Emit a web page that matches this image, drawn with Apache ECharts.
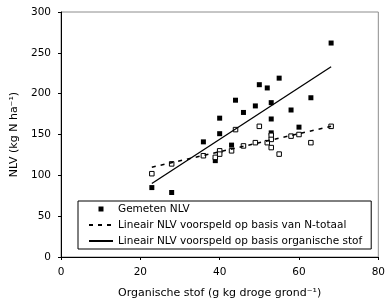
<!DOCTYPE html>
<html>
<head>
<meta charset="utf-8">
<script src="https://cdn.jsdelivr.net/npm/echarts@6/dist/echarts.min.js"></script>
<style>
html,body{margin:0;padding:0;background:#fff}
#chart{width:388px;height:306px}
</style>
</head>
<body>
<div id="chart"></div>
<script>
// organische stof (g/kg) per perceel
var orgStof = [22.9, 27.9, 35.9, 38.9, 40, 40, 43, 44, 46, 49, 50, 52, 53, 53, 53, 55, 58, 60, 63, 68.1];
// gemeten NLV (kg N/ha)
var gemetenNLV = [85, 79, 141, 118, 151, 170, 137, 192, 177, 185, 211, 207, 189, 169, 152, 219, 180, 159, 195, 262];
// voorspeld op basis van N-totaal (open vierkantjes)
var voorspeldNtot = [102, 114, 124, 122, 130, 126, 130, 156, 136, 140, 160, 140, 149, 144, 134, 126, 148, 150, 140, 160];
// regressielijnen (begin- en eindpunt)
var lijnNtotX = [22.9, 68.1];
var lijnNtotY = [110, 160];
var lijnOrgX = [22.9, 68.1];
var lijnOrgY = [90, 233];

var xTicks = [0, 20, 40, 60, 80];
var yTicks = [0, 50, 100, 150, 200, 250, 300];

var font = 'DejaVu Sans';
var noFill = 'rgba(0,0,0,0)';
function pairs(xs, ys) {
    return xs.map(function (x, i) { return [x, ys[i]]; });
}

var myChart = echarts.init(document.getElementById('chart'));
myChart.setOption({
    animation: false,
    grid: {
        left: 61, right: 6, top: 12, bottom: 49,
        show: true,
        borderColor: '#8c8c8c',
        borderWidth: 1
    },
    legend: {
        data: [
            { name: 'Gemeten NLV', icon: 'path://M0,0H1V1H0Z' },
            'Lineair NLV voorspeld op basis van N-totaal',
            'Lineair NLV voorspeld op basis organische stof'
        ],
        orient: 'vertical',
        left: 78, top: 201,
        itemWidth: 24, itemHeight: 5, itemGap: 4,
        padding: [2, 9, 2, 10],
        backgroundColor: '#fff',
        borderColor: '#000',
        borderWidth: 1,
        borderRadius: 0,
        selectedMode: false,
        textStyle: { fontFamily: font, fontSize: 10.5, color: '#000', lineHeight: 12 }
    },
    xAxis: {
        type: 'value',
        min: xTicks[0], max: xTicks[xTicks.length - 1], interval: 20,
        name: 'Organische stof (g kg droge grond⁻¹)',
        nameLocation: 'middle',
        nameGap: 31,
        nameTextStyle: { fontFamily: font, fontSize: 11, color: '#000' },
        axisLine: { lineStyle: { color: '#000', width: 1 } },
        axisTick: { inside: false, length: 3, lineStyle: { color: '#000' } },
        axisLabel: { margin: 10, fontFamily: font, fontSize: 10.5, color: '#000' },
        splitLine: { show: false }
    },
    yAxis: {
        type: 'value',
        min: yTicks[0], max: yTicks[yTicks.length - 1], interval: 50,
        name: 'NLV (kg N ha⁻¹)',
        nameLocation: 'middle',
        nameGap: 40,
        nameTextStyle: { fontFamily: font, fontSize: 11, color: '#000' },
        axisLine: { show: true, lineStyle: { color: '#000', width: 1 } },
        axisTick: { show: true, inside: false, length: 3, lineStyle: { color: '#000' } },
        axisLabel: { margin: 10, fontFamily: font, fontSize: 10.5, color: '#000' },
        splitLine: { show: false }
    },
    series: [
        {
            name: 'Lineair NLV voorspeld op basis organische stof',
            type: 'line',
            symbol: 'none',
            data: pairs(lijnOrgX, lijnOrgY),
            lineStyle: { color: '#000', width: 1.3, type: 'solid' },
            itemStyle: { color: noFill, borderColor: noFill, borderWidth: 0 }
        },
        {
            name: 'Lineair NLV voorspeld op basis van N-totaal',
            type: 'line',
            symbol: 'none',
            data: pairs(lijnNtotX, lijnNtotY),
            lineStyle: { color: '#000', width: 1.6, type: [4, 5] },
            itemStyle: { color: noFill, borderColor: noFill, borderWidth: 0 }
        },
        {
            name: 'Gemeten NLV',
            type: 'scatter',
            symbol: 'rect',
            symbolSize: 5,
            data: pairs(orgStof, gemetenNLV),
            itemStyle: { color: '#000', opacity: 1 }
        },
        {
            name: 'Voorspeld N-totaal',
            type: 'scatter',
            symbol: 'rect',
            symbolSize: 4.5,
            data: pairs(orgStof, voorspeldNtot),
            itemStyle: { color: '#fff', borderColor: '#000', borderWidth: 1, opacity: 1 }
        }
    ]
});
</script>
</body>
</html>
